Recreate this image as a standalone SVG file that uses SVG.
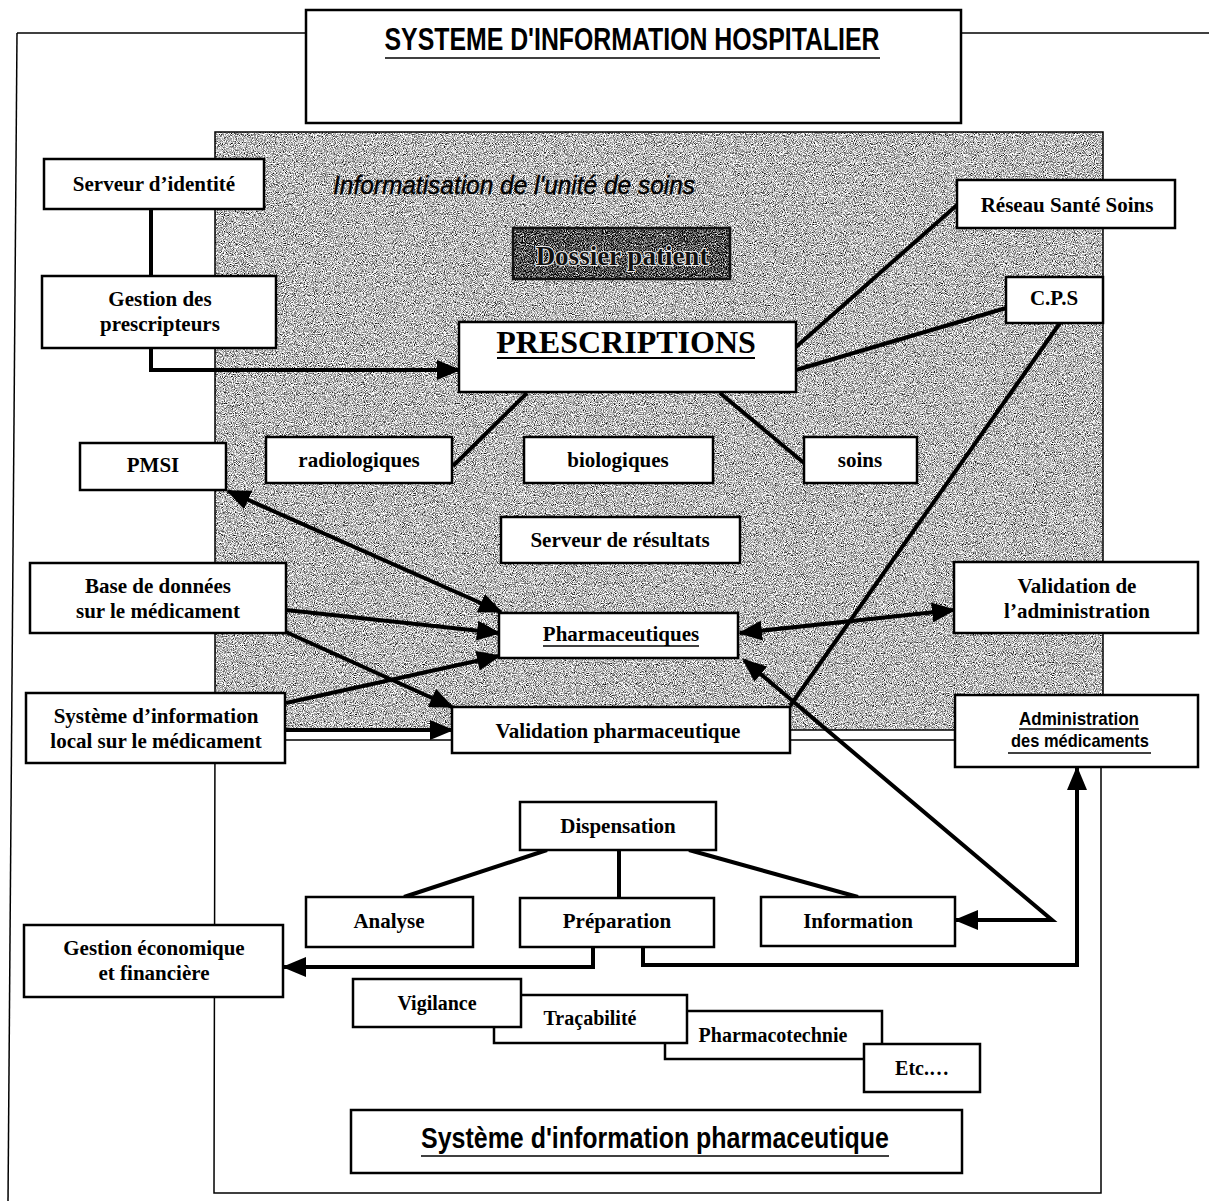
<svg xmlns="http://www.w3.org/2000/svg" width="1209" height="1201" viewBox="0 0 1209 1201">
<defs>
<style>
.box{fill:#fff;stroke:#000;stroke-width:2.5}
.t{font-family:"Liberation Serif","Times New Roman",serif;font-weight:bold;font-size:21px;fill:#000;text-anchor:middle}
.t20{font-size:20px}
.sans{font-family:"Liberation Sans Narrow","Liberation Sans",Arial,sans-serif;font-weight:bold;fill:#000;text-anchor:middle}
.c{fill:none;stroke:#000;stroke-width:4}
.thin{fill:none;stroke:#000;stroke-width:1.5}
.ul{stroke:#000;stroke-width:1.5}
.arr{marker-end:url(#ah)}
.arr2{marker-start:url(#ah);marker-end:url(#ah)}
</style>
<marker id="ah" viewBox="0 0 24 20" refX="22" refY="10" markerWidth="24" markerHeight="20" markerUnits="userSpaceOnUse" orient="auto-start-reverse"><path d="M0,0 L24,10 L0,20 Z" fill="#000"/></marker>
<filter id="grain" x="0" y="0" width="1" height="1" color-interpolation-filters="sRGB">
 <feTurbulence type="fractalNoise" baseFrequency="1.1" numOctaves="1" seed="4" result="n"/>
 <feColorMatrix in="n" type="matrix" values="0.33 0.33 0.33 0 0 0.33 0.33 0.33 0 0 0.33 0.33 0.33 0 0 0 0 0 0 1" result="g"/>
 <feComponentTransfer in="g">
  <feFuncR type="linear" slope="4" intercept="-1.25"/>
  <feFuncG type="linear" slope="4" intercept="-1.25"/>
  <feFuncB type="linear" slope="4" intercept="-1.25"/>
 </feComponentTransfer>
</filter>
<filter id="grainDark" x="0" y="0" width="1" height="1" color-interpolation-filters="sRGB">
 <feTurbulence type="fractalNoise" baseFrequency="1.1" numOctaves="1" seed="9" result="n"/>
 <feColorMatrix in="n" type="matrix" values="0.33 0.33 0.33 0 0 0.33 0.33 0.33 0 0 0.33 0.33 0.33 0 0 0 0 0 0 1" result="g"/>
 <feComponentTransfer in="g">
  <feFuncR type="linear" slope="4.5" intercept="-1.9"/>
  <feFuncG type="linear" slope="4.5" intercept="-1.9"/>
  <feFuncB type="linear" slope="4.5" intercept="-1.9"/>
 </feComponentTransfer>
</filter>
</defs>

<rect width="1209" height="1201" fill="#fff"/>

<g id="frames">
 <line class="thin" x1="17" y1="33" x2="306" y2="33"/>
 <line class="thin" x1="961" y1="33" x2="1209" y2="33"/>
 <line class="thin" x1="17" y1="33" x2="8" y2="1201"/>
 <rect x="215" y="132" width="888" height="598" fill="#b5b5b5" filter="url(#grain)"/>
 <rect x="215" y="132" width="888" height="598" class="thin"/>
 <polyline class="thin" points="215,730 214,1193 1101,1193 1101,740 214,740"/>
</g>

<g id="connectors">
 <path class="c" d="M151,209 V276"/>
 <path class="c arr" d="M151,348 V370 H459"/>
 <path class="c" d="M796,347 L957,205"/>
 <path class="c" d="M796,370 L1006,308"/>
 <path class="c" d="M1060,323 L790,706"/>
 <path class="c" d="M527,393 L453,466"/>
 <path class="c" d="M720,393 L804,463"/>
 <path class="c arr2" d="M228,491 L501,612"/>
 <path class="c arr" d="M286,610 L499,633"/>
 <path class="c arr" d="M286,632 L452,707"/>
 <path class="c arr" d="M286,703 L499,656"/>
 <path class="c arr" d="M286,730 L452,730"/>
 <path class="c arr2" d="M740,633 L954,610"/>
 <path class="c arr2" d="M744,660 L1052,920 L956,920"/>
 <path class="c arr" d="M643,948 V965 H1077 V768"/>
 <path class="c arr" d="M593,948 V967 H284"/>
 <path class="c" d="M547,850 L404,897"/>
 <path class="c" d="M619,850 V898"/>
 <path class="c" d="M689,850 L858,897"/>
</g>

<g id="title">
 <rect class="box" x="306" y="10" width="655" height="113"/>
 <text class="sans" x="632" y="50" font-size="31" textLength="495" lengthAdjust="spacingAndGlyphs">SYSTEME D'INFORMATION HOSPITALIER</text>
 <line class="ul" x1="385" y1="58" x2="880" y2="58"/>
</g>
<g id="informatisation">
 <text x="333" y="194" font-family="'Liberation Sans Narrow','Liberation Sans',Arial,sans-serif" font-style="italic" font-size="25" fill="#000" stroke="#000" stroke-width="0.4" textLength="362" lengthAdjust="spacingAndGlyphs">Informatisation de l'unité de soins</text>
</g>
<g id="serveur-identite">
 <rect class="box" x="44" y="159" width="220" height="50"/>
 <text class="t" x="154" y="191">Serveur d’identité</text>
</g>
<g id="gestion-prescripteurs">
 <rect class="box" x="42" y="276" width="234" height="72"/>
 <text class="t" x="160" y="306">Gestion des</text>
 <text class="t" x="160" y="331">prescripteurs</text>
</g>
<g id="dossier-patient">
 <rect x="513" y="228" width="217" height="51" fill="#555" filter="url(#grainDark)"/>
 <rect x="513" y="228" width="217" height="51" fill="none" stroke="#111" stroke-width="2.5"/>
 <text class="t" x="622" y="265" style="font-size:27px;fill:#111;stroke:#eeeeee;stroke-width:2px;paint-order:stroke">Dossier patient</text>
</g>
<g id="prescriptions">
 <rect class="box" x="459" y="322" width="337" height="70"/>
 <text class="t" x="626" y="353" style="font-size:32px">PRESCRIPTIONS</text>
 <line x1="497" y1="358" x2="755" y2="358" stroke="#000" stroke-width="2"/>
</g>
<g id="reseau">
 <rect class="box" x="957" y="180" width="218" height="48"/>
 <text class="t" x="1067" y="212">Réseau Santé Soins</text>
</g>
<g id="cps">
 <rect class="box" x="1006" y="277" width="97" height="46"/>
 <text class="t" x="1054" y="305">C.P.S</text>
</g>
<g id="pmsi">
 <rect class="box" x="80" y="443" width="146" height="47"/>
 <text class="t" x="153" y="472">PMSI</text>
</g>
<g id="radiologiques">
 <rect class="box" x="266" y="437" width="186" height="46"/>
 <text class="t" x="359" y="467">radiologiques</text>
</g>
<g id="biologiques">
 <rect class="box" x="524" y="437" width="189" height="46"/>
 <text class="t" x="618" y="467">biologiques</text>
</g>
<g id="soins">
 <rect class="box" x="804" y="437" width="113" height="46"/>
 <text class="t" x="860" y="467">soins</text>
</g>
<g id="serveur-resultats">
 <rect class="box" x="501" y="517" width="239" height="46"/>
 <text class="t" x="620" y="547">Serveur de résultats</text>
</g>
<g id="base-donnees">
 <rect class="box" x="30" y="563" width="256" height="70"/>
 <text class="t" x="158" y="593">Base de données</text>
 <text class="t" x="158" y="618">sur le médicament</text>
</g>
<g id="pharmaceutiques">
 <rect class="box" x="499" y="613" width="239" height="45"/>
 <text class="t" x="621" y="641">Pharmaceutiques</text>
 <line class="ul" x1="543" y1="646" x2="699" y2="646"/>
</g>
<g id="validation-admin">
 <rect class="box" x="954" y="562" width="244" height="71"/>
 <text class="t" x="1077" y="593">Validation de</text>
 <text class="t" x="1077" y="618">l’administration</text>
</g>
<g id="systeme-local">
 <rect class="box" x="26" y="693" width="259" height="70"/>
 <text class="t" x="156" y="723">Système d’information</text>
 <text class="t" x="156" y="748">local sur le médicament</text>
</g>
<g id="validation-pharma">
 <rect class="box" x="452" y="707" width="338" height="46"/>
 <text class="t" x="618" y="738">Validation pharmaceutique</text>
</g>
<g id="administration">
 <rect class="box" x="955" y="695" width="243" height="72"/>
 <text class="sans" x="1079" y="725" font-size="19" textLength="120" lengthAdjust="spacingAndGlyphs">Administration</text>
 <line class="ul" x1="1019" y1="729" x2="1139" y2="729"/>
 <text class="sans" x="1080" y="747" font-size="19" textLength="138" lengthAdjust="spacingAndGlyphs">des médicaments</text>
 <line class="ul" x1="1008" y1="753" x2="1151" y2="753"/>
</g>
<g id="dispensation">
 <rect class="box" x="520" y="802" width="196" height="48"/>
 <text class="t" x="618" y="833">Dispensation</text>
</g>
<g id="analyse">
 <rect class="box" x="306" y="897" width="167" height="50"/>
 <text class="t" x="389" y="928">Analyse</text>
</g>
<g id="preparation">
 <rect class="box" x="520" y="898" width="194" height="49"/>
 <text class="t" x="617" y="928">Préparation</text>
</g>
<g id="information">
 <rect class="box" x="761" y="897" width="194" height="49"/>
 <text class="t" x="858" y="928">Information</text>
</g>
<g id="gestion-economique">
 <rect class="box" x="24" y="925" width="259" height="72"/>
 <text class="t" x="154" y="955">Gestion économique</text>
 <text class="t" x="154" y="980">et financière</text>
</g>
<g id="pharmacotechnie">
 <rect class="box" x="665" y="1011" width="217" height="48"/>
 <text class="t t20" x="773" y="1042">Pharmacotechnie</text>
</g>
<g id="tracabilite">
 <rect class="box" x="494" y="995" width="193" height="48"/>
 <text class="t t20" x="590" y="1025">Traçabilité</text>
</g>
<g id="vigilance">
 <rect class="box" x="353" y="979" width="168" height="48"/>
 <text class="t t20" x="437" y="1010">Vigilance</text>
</g>
<g id="etc">
 <rect class="box" x="864" y="1044" width="116" height="48"/>
 <text class="t t20" x="922" y="1075">Etc.…</text>
</g>
<g id="systeme-pharma">
 <rect class="box" x="351" y="1110" width="611" height="63"/>
 <text class="sans" x="655" y="1148" font-size="29" textLength="468" lengthAdjust="spacingAndGlyphs">Système d'information pharmaceutique</text>
 <line class="ul" x1="421" y1="1156" x2="889" y2="1156"/>
</g>
</svg>
